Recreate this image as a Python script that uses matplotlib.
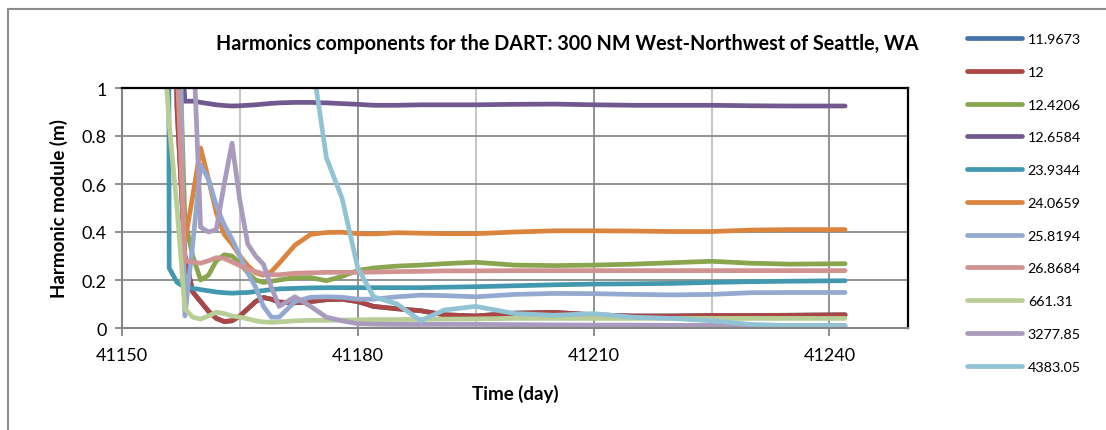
import matplotlib.pyplot as plt
from matplotlib.patches import Rectangle

plt.rcParams['font.family'] = ['Lato', 'DejaVu Sans']

# days of the harmonic analysis windows
days = [41155, 41156, 41157, 41158, 41159, 41160, 41161, 41162, 41163, 41164,
        41165, 41166, 41167, 41168, 41169, 41170, 41172, 41174, 41176, 41178,
        41180, 41182, 41185, 41188, 41191, 41195, 41200, 41205, 41210, 41215,
        41220, 41225, 41230, 41235, 41242]

# harmonic modules (m) per period; values above 1 run off the top of the chart
p11_9673 = [3.0, 3.0, 0.92, 0.30, 0.15, 0.11, 0.07, 0.04, 0.027, 0.03,
            0.05, 0.08, 0.11, 0.127, 0.12, 0.108, 0.105, 0.11, 0.118, 0.12,
            0.11, 0.09, 0.08, 0.072, 0.055, 0.05, 0.062, 0.065, 0.055, 0.05,
            0.05, 0.052, 0.052, 0.053, 0.055]
p12 = [3.0, 3.0, 0.92, 0.30, 0.15, 0.11, 0.07, 0.04, 0.027, 0.03,
       0.05, 0.08, 0.11, 0.127, 0.12, 0.108, 0.105, 0.11, 0.118, 0.12,
       0.11, 0.09, 0.08, 0.072, 0.055, 0.05, 0.062, 0.065, 0.055, 0.05,
       0.05, 0.052, 0.052, 0.053, 0.055]
p12_4206 = [3.0, 3.0, 1.5, 0.45, 0.30, 0.20, 0.22, 0.28, 0.305, 0.30,
            0.27, 0.23, 0.20, 0.19, 0.195, 0.20, 0.21, 0.21, 0.197, 0.215,
            0.24, 0.25, 0.258, 0.262, 0.268, 0.274, 0.262, 0.26, 0.262, 0.266,
            0.272, 0.278, 0.27, 0.266, 0.268]
p12_6584 = [3.0, 3.0, 1.5, 0.945, 0.945, 0.94, 0.935, 0.93, 0.927, 0.925,
            0.926, 0.928, 0.93, 0.933, 0.936, 0.938, 0.94, 0.94, 0.938, 0.935,
            0.932, 0.928, 0.928, 0.93, 0.93, 0.93, 0.932, 0.933, 0.93, 0.928,
            0.928, 0.928, 0.926, 0.925, 0.925]
p23_9344 = [20.0, 0.25, 0.19, 0.17, 0.165, 0.16, 0.155, 0.15, 0.147, 0.145,
            0.147, 0.148, 0.152, 0.156, 0.16, 0.163, 0.165, 0.167, 0.168, 0.168,
            0.168, 0.168, 0.168, 0.168, 0.17, 0.172, 0.176, 0.18, 0.183, 0.184,
            0.186, 0.19, 0.193, 0.195, 0.197]
p24_0659 = [3.0, 3.0, 1.2, 0.36, 0.55, 0.75, 0.62, 0.48, 0.39, 0.35,
            0.30, 0.26, 0.23, 0.22, 0.235, 0.27, 0.345, 0.39, 0.398, 0.399,
            0.393, 0.392, 0.397, 0.395, 0.393, 0.393, 0.40, 0.405, 0.405, 0.404,
            0.402, 0.402, 0.408, 0.41, 0.41]
p25_8194 = [4.0, 4.0, 2.0, 0.05, 0.35, 0.68, 0.62, 0.51, 0.43, 0.37,
            0.30, 0.23, 0.17, 0.09, 0.045, 0.045, 0.11, 0.128, 0.13, 0.128,
            0.12, 0.12, 0.13, 0.137, 0.135, 0.13, 0.14, 0.144, 0.143, 0.14,
            0.138, 0.14, 0.147, 0.148, 0.148]
p26_8684 = [3.0, 3.0, 1.1, 0.28, 0.275, 0.27, 0.28, 0.293, 0.29, 0.275,
            0.26, 0.245, 0.235, 0.225, 0.222, 0.222, 0.228, 0.23, 0.232, 0.232,
            0.232, 0.233, 0.235, 0.236, 0.238, 0.238, 0.239, 0.239, 0.239, 0.239,
            0.239, 0.239, 0.239, 0.239, 0.239]
p661_31 = [1.35, 0.85, 0.50, 0.08, 0.045, 0.037, 0.05, 0.066, 0.06, 0.05,
           0.045, 0.038, 0.03, 0.025, 0.024, 0.025, 0.03, 0.032, 0.032, 0.033,
           0.034, 0.035, 0.035, 0.036, 0.037, 0.038, 0.04, 0.04, 0.04, 0.04,
           0.04, 0.04, 0.04, 0.04, 0.04]
p3277_85 = [3.0, 3.0, 3.0, 3.0, 1.25, 0.42, 0.40, 0.41, 0.60, 0.77,
            0.53, 0.35, 0.30, 0.265, 0.17, 0.09, 0.13, 0.09, 0.045, 0.03,
            0.018, 0.016, 0.015, 0.015, 0.015, 0.015, 0.014, 0.013, 0.012, 0.012,
            0.011, 0.011, 0.01, 0.01, 0.01]
p4383_05 = [3.0, 3.0, 3.0, 3.0, 3.0, 3.0, 3.0, 3.0, 3.0, 3.0,
            3.0, 3.0, 3.0, 3.0, 3.0, 3.0, 3.0, 1.16, 0.71, 0.54,
            0.25, 0.13, 0.10, 0.03, 0.075, 0.09, 0.06, 0.053, 0.06, 0.045,
            0.04, 0.03, 0.015, 0.01, 0.01]

labels = ['11.9673', '12', '12.4206', '12.6584', '23.9344', '24.0659',
          '25.8194', '26.8684', '661.31', '3277.85', '4383.05']
series = [p11_9673, p12, p12_4206, p12_6584, p23_9344, p24_0659,
          p25_8194, p26_8684, p661_31, p3277_85, p4383_05]
colors = ['#4572A7', '#AA4643', '#89A54E', '#71588F', '#4198AF', '#DB843D',
          '#93A9CF', '#D19392', '#B9CD96', '#A99BBD', '#92C3D5']

fig = plt.figure(figsize=(11.06, 4.31), dpi=100)
ax = fig.add_axes([122 / 1106, 1 - 329 / 431, 786 / 1106, 240 / 431])

# outer chart frame (only left and top edges fall inside the image)
fig.add_artist(Rectangle((8 / 1106, -0.2), 1.2, 1.2 - 10 / 431,
                         transform=fig.transFigure, fill=False,
                         edgecolor='#8c8c8c', linewidth=1.5))

for vals, lab, col in zip(series, labels, colors):
    ax.plot(days, vals, color=col, lw=3.4, label=lab,
            solid_capstyle='round', solid_joinstyle='round')

ax.set_xlim(41150, 41250)
ax.set_ylim(0, 1)
ax.set_xticks([41150, 41180, 41210, 41240])
ax.set_xticks([41165, 41195, 41225], minor=True)
ax.set_yticks([0, 0.2, 0.4, 0.6, 0.8, 1])
ax.set_yticklabels(['0', '0.2', '0.4', '0.6', '0.8', '1'])
ax.tick_params(axis='both', labelsize=13, color='#868686', width=1.3)
ax.tick_params(axis='x', length=6, pad=8)
ax.tick_params(axis='y', length=5, pad=6)
ax.tick_params(axis='x', which='minor', length=0)

ax.grid(True, which='major', axis='both', color='#8a8a8a', lw=1.3)
ax.grid(True, which='minor', axis='x', color='#c0c0c0', lw=1.3)
ax.set_axisbelow(True)

for side in ['left', 'bottom']:
    ax.spines[side].set_color('#868686')
    ax.spines[side].set_linewidth(1.5)
for side in ['top', 'right']:
    ax.spines[side].set_color('black')
    ax.spines[side].set_linewidth(1.6)

ax.set_xlabel('Time (day)', fontsize=13.5, fontweight='bold', labelpad=15)
ax.set_ylabel('Harmonic module (m)', fontsize=13.5, fontweight='bold', labelpad=10)

fig.text(567 / 1106, 1 - 44 / 431,
         'Harmonics components for the DART: 300 NM West-Northwest of Seattle, WA',
         ha='center', va='center', fontsize=14.2, fontweight='bold')

fig.legend(loc='upper left', bbox_to_anchor=(967 / 1106, 1 - 34 / 431),
           frameon=False, fontsize=10.3, handlelength=3.85, handletextpad=0.4,
           labelspacing=1.45, borderpad=0, borderaxespad=0)

fig.savefig('out.png', dpi=100)
